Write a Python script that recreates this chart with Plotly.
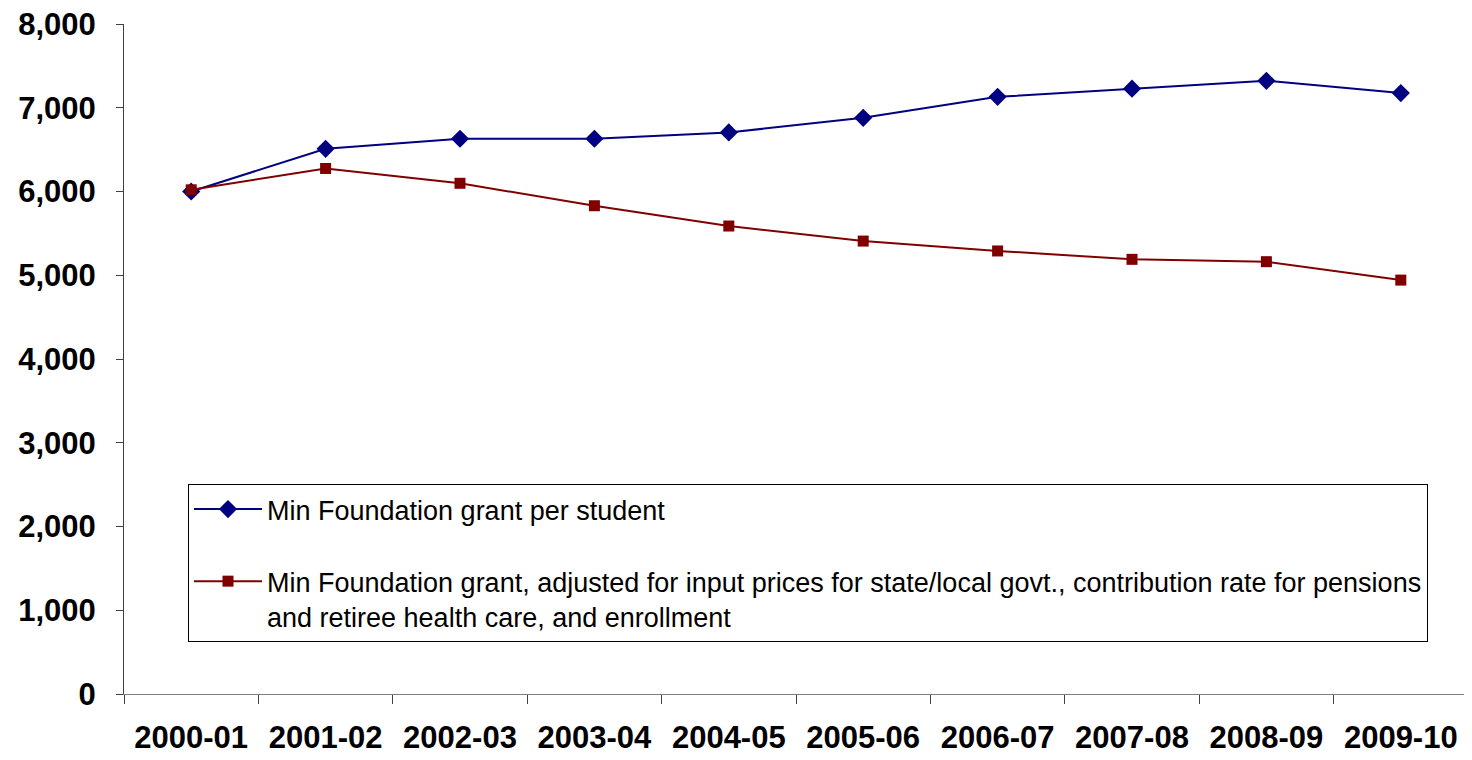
import plotly.graph_objects as go

years = ["2000-01", "2001-02", "2002-03", "2003-04", "2004-05",
         "2005-06", "2006-07", "2007-08", "2008-09", "2009-10"]
grant_per_student = [6000, 6510, 6630, 6630, 6705, 6880, 7130, 7228, 7322, 7175]
grant_adjusted = [6020, 6275, 6098, 5830, 5588, 5408, 5290, 5190, 5162, 4942]
y_ticks = [0, 1000, 2000, 3000, 4000, 5000, 6000, 7000, 8000]

name1 = "Min Foundation grant per student"
name2 = ("Min Foundation grant, adjusted for input prices for state/local govt., "
         "contribution rate for pensions<br>and retiree health care, and enrollment")

FONT = "Liberation Sans, Arial, sans-serif"

fig = go.Figure()
fig.add_trace(go.Scatter(
    x=years, y=grant_per_student, name=name1, mode="lines+markers",
    line=dict(color="#000080", width=2),
    marker=dict(symbol="diamond", size=14, color="#000080"),
    legendgroup="a"))
fig.add_trace(go.Scatter(
    x=years, y=grant_adjusted, name=name2, mode="lines+markers",
    line=dict(color="#800000", width=2),
    marker=dict(symbol="square", size=11, color="#800000"),
    legendgroup="b"))

fig.update_layout(
    width=1464, height=752,
    margin=dict(l=116, r=4, t=16, b=66, autoexpand=False),
    paper_bgcolor="white", plot_bgcolor="white",
    font=dict(family=FONT, color="black"),
    showlegend=True,
    legend=dict(
        x=(188 - 124) / 1344, y=(694 - 484) / 670,
        xanchor="left", yanchor="top",
        bordercolor="black", borderwidth=1, bgcolor="white",
        font=dict(size=27, family=FONT),
        traceorder="grouped", tracegroupgap=34,
        itemwidth=68, valign="top",
    ),
    xaxis=dict(
        type="category", range=[-0.5, 9.5], automargin=False,
        showline=True, linecolor="#808080", linewidth=1,
        ticks="outside", tickson="boundaries", ticklen=9, tickcolor="#404040",
        tickfont=dict(size=31, family=FONT, weight="bold"),
        ticklabelstandoff=16, ticklabeloverflow="allow",
        showgrid=False, zeroline=False,
    ),
    yaxis=dict(
        range=[0, 8000], tickvals=y_ticks, tickformat=",d", automargin=False,
        showline=True, linecolor="#404040", linewidth=1,
        ticks="outside", ticklen=7, tickcolor="#404040",
        tickfont=dict(size=31, family=FONT, weight="bold"),
        ticklabelstandoff=14, ticklabeloverflow="allow",
        showgrid=False, zeroline=False,
    ),
)

fig.write_html("out.html")
